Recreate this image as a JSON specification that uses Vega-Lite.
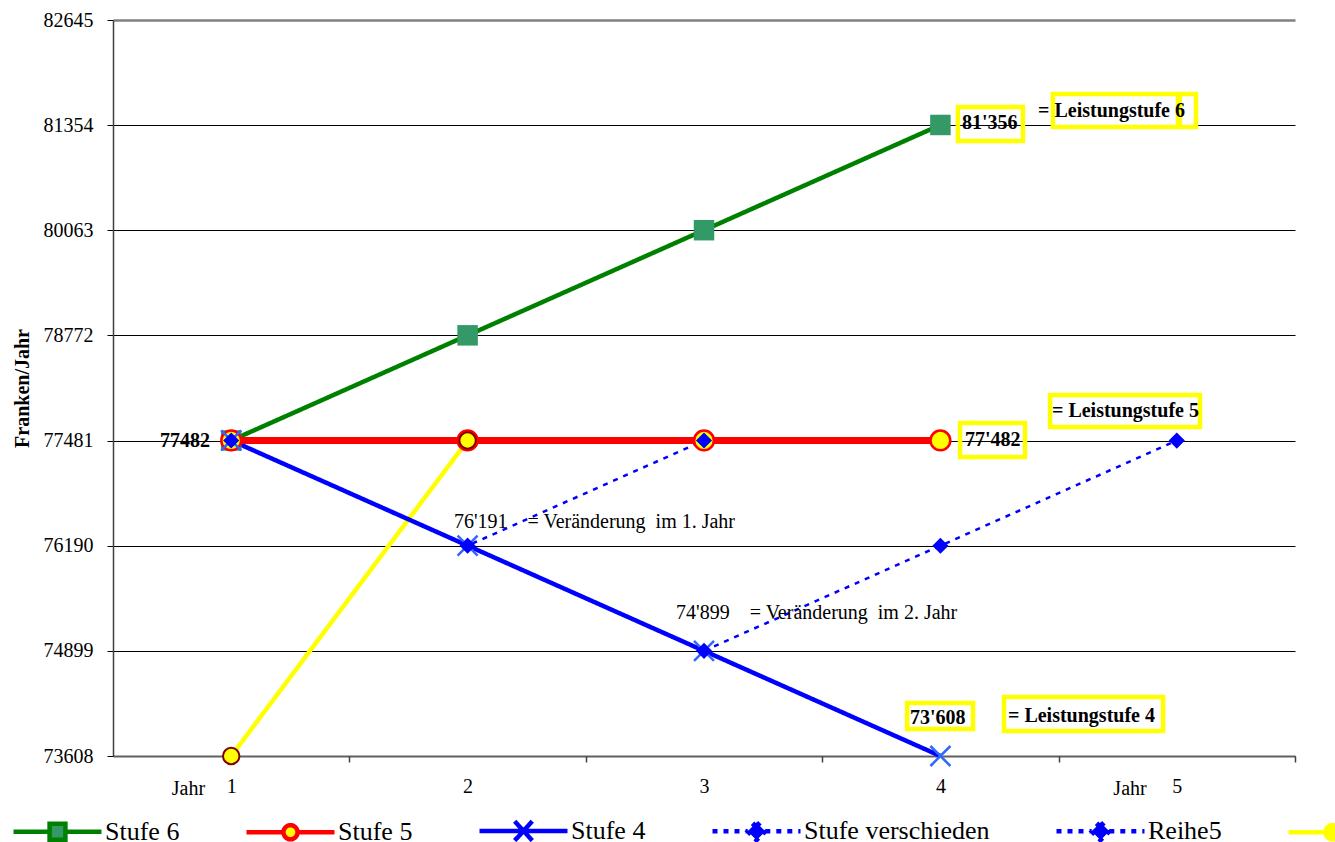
{
  "$schema": "https://vega.github.io/schema/vega-lite/v6.json",
  "width": 1182,
  "height": 736,
  "autosize": {"type": "none"},
  "padding": {"left": 113, "top": 20, "right": 40, "bottom": 86},
  "background": "white",
  "config": {
    "view": {"stroke": null},
    "font": "Liberation Serif",
    "axis": {"labelFont": "Liberation Serif", "titleFont": "Liberation Serif"},
    "legend": {"labelFont": "Liberation Serif", "labelFontSize": 26, "titleFont": "Liberation Serif"},
    "text": {"font": "Liberation Serif"}
  },
  "datasets": {
    "werte": [
      {"series": "Stufe 6", "jahr": 1, "wert": 77482},
      {"series": "Stufe 6", "jahr": 2, "wert": 78773},
      {"series": "Stufe 6", "jahr": 3, "wert": 80064},
      {"series": "Stufe 6", "jahr": 4, "wert": 81356},
      {"series": "Stufe 5", "jahr": 1, "wert": 77482},
      {"series": "Stufe 5", "jahr": 2, "wert": 77482},
      {"series": "Stufe 5", "jahr": 3, "wert": 77482},
      {"series": "Stufe 5", "jahr": 4, "wert": 77482},
      {"series": "Reihe6", "jahr": 1, "wert": 73608},
      {"series": "Reihe6", "jahr": 2, "wert": 77482},
      {"series": "Stufe 4", "jahr": 1, "wert": 77482},
      {"series": "Stufe 4", "jahr": 2, "wert": 76191},
      {"series": "Stufe 4", "jahr": 3, "wert": 74899},
      {"series": "Stufe 4", "jahr": 4, "wert": 73608},
      {"series": "Stufe verschieden", "jahr": 1, "wert": 77482},
      {"series": "Stufe verschieden", "jahr": 2, "wert": 76191},
      {"series": "Stufe verschieden", "jahr": 3, "wert": 77482},
      {"series": "Reihe5", "jahr": 3, "wert": 74899},
      {"series": "Reihe5", "jahr": 4, "wert": 76190},
      {"series": "Reihe5", "jahr": 5, "wert": 77481}
    ],
    "boxen": [
      {"x1": 4.074, "x2": 4.349, "y1": 81577, "y2": 81159},
      {"x1": 4.476, "x2": 5.005, "y1": 81736, "y2": 81331},
      {"x1": 5.013, "x2": 5.081, "y1": 81736, "y2": 81331},
      {"x1": 4.083, "x2": 4.358, "y1": 77697, "y2": 77280},
      {"x1": 4.464, "x2": 5.098, "y1": 78040, "y2": 77647},
      {"x1": 3.859, "x2": 4.138, "y1": 74258, "y2": 73939},
      {"x1": 4.269, "x2": 4.942, "y1": 74332, "y2": 73915}
    ],
    "fett": [
      {"x": 4.091, "y": 81380, "text": "81'356"},
      {"x": 4.413, "y": 81528, "text": "= Leistungstufe 6"},
      {"x": 4.104, "y": 77488, "text": "77'482"},
      {"x": 4.472, "y": 77844, "text": "= Leistungstufe 5"},
      {"x": 3.871, "y": 74070, "text": "73'608"},
      {"x": 4.286, "y": 74099, "text": "= Leistungstufe 4"}
    ],
    "fett_rechts": [
      {"x": 0.91, "y": 77481, "text": "77482"}
    ],
    "normal": [
      {"x": 1.942, "y": 76481, "text": "76'191\u00a0\u00a0\u00a0 = Veränderung\u00a0\u00a0im 1. Jahr"},
      {"x": 2.882, "y": 75364, "text": "74'899\u00a0\u00a0\u00a0 = Veränderung\u00a0\u00a0im 2. Jahr"}
    ]
  },
  "layer": [
    {
      "data": {"name": "werte"},
      "transform": [{"filter": {"field": "series", "oneOf": ["Stufe 6", "Stufe 4", "Reihe6"]}}],
      "mark": {"type": "line", "strokeWidth": 4.5},
      "encoding": {
        "x": {"field": "jahr", "type": "quantitative", "scale": {"domain": [0.5, 5.5], "nice": false, "zero": false},
          "axis": {"orient": "bottom", "values": [1, 2, 3, 4, 5], "format": "d", "ticks": false, "grid": false, "domain": true, "domainColor": "#606060", "domainWidth": 2, "labelFont": "Liberation Serif", "labelFontSize": 20, "labelColor": "black", "labelPadding": 20, "title": null, "labelFlush": false, "labelOverlap": false}},
        "y": {"field": "wert", "type": "quantitative", "scale": {"domain": [73608, 82645], "nice": false, "zero": false},
          "axis": {"values": [73608, 74899, 76190, 77481, 78772, 80063, 81354, 82645], "format": "d", "labelFont": "Liberation Serif", "labelFontSize": 20, "labelColor": "black", "labelPadding": 14, "tickSize": 6, "tickColor": "black", "domainColor": "#404040", "domainWidth": 1.5, "grid": true,
            "gridColor": {"condition": {"test": "datum.value >= 82645", "value": "#808080"}, "value": "black"},
            "gridWidth": {"condition": {"test": "datum.value >= 82645", "value": 2.5}, "value": 1},
            "gridOpacity": 1, "title": "Franken/Jahr", "titleFont": "Liberation Serif", "titleFontSize": 20, "titleFontWeight": "bold", "titleColor": "black", "titlePadding": 11, "labelFlush": false, "labelOverlap": false}},
        "color": {"field": "series", "type": "nominal",
          "scale": {"domain": ["Stufe 6", "Stufe 5", "Stufe 4", "Stufe verschieden", "Reihe5", "Reihe6"], "range": ["#008000", "#FF0000", "#0000FF", "#0000FF", "#0000FF", "#FFFF00"]},
          "legend": {"orient": "none", "legendX": -102, "legendY": 764, "direction": "horizontal", "columns": 6, "columnPadding": 57, "title": null, "padding": 0, "labelFont": "Liberation Serif", "labelFontSize": 26, "labelColor": "black", "labelLimit": 400, "labelOffset": 1, "symbolSize": 7744, "symbolStrokeWidth": 4.5, "symbolOpacity": 1}},
        "strokeDash": {"field": "series", "type": "nominal",
          "scale": {"domain": ["Stufe 6", "Stufe 5", "Stufe 4", "Stufe verschieden", "Reihe5", "Reihe6"], "range": [[1, 0], [1, 0], [1, 0], [5, 6], [5, 6], [1, 0]]},
          "legend": {"orient": "none", "legendX": -102, "legendY": 764, "direction": "horizontal", "columns": 6, "columnPadding": 57, "title": null, "padding": 0, "labelFont": "Liberation Serif", "labelFontSize": 26, "labelColor": "black", "labelLimit": 400, "labelOffset": 1, "symbolSize": 7744, "symbolStrokeWidth": 4.5, "symbolOpacity": 1}}
      }
    },
    {
      "data": {"name": "werte"},
      "transform": [{"filter": {"field": "series", "equal": "Stufe 5"}}],
      "mark": {"type": "line", "strokeWidth": 7},
      "encoding": {
        "x": {"field": "jahr", "type": "quantitative", "scale": {"domain": [0.5, 5.5], "nice": false, "zero": false}, "axis": null},
        "y": {"field": "wert", "type": "quantitative"},
        "color": {"field": "series", "type": "nominal",
          "scale": {"domain": ["Stufe 6", "Stufe 5", "Stufe 4", "Stufe verschieden", "Reihe5", "Reihe6"], "range": ["#008000", "#FF0000", "#0000FF", "#0000FF", "#0000FF", "#FFFF00"]}}
      }
    },
    {
      "data": {"name": "werte"},
      "transform": [{"filter": {"field": "series", "oneOf": ["Stufe verschieden", "Reihe5"]}}],
      "mark": {"type": "line", "strokeWidth": 2.5},
      "encoding": {
        "x": {"field": "jahr", "type": "quantitative", "scale": {"domain": [0.5, 5.5], "nice": false, "zero": false}, "axis": null},
        "y": {"field": "wert", "type": "quantitative"},
        "color": {"field": "series", "type": "nominal",
          "scale": {"domain": ["Stufe 6", "Stufe 5", "Stufe 4", "Stufe verschieden", "Reihe5", "Reihe6"], "range": ["#008000", "#FF0000", "#0000FF", "#0000FF", "#0000FF", "#FFFF00"]}},
        "strokeDash": {"field": "series", "type": "nominal",
          "scale": {"domain": ["Stufe 6", "Stufe 5", "Stufe 4", "Stufe verschieden", "Reihe5", "Reihe6"], "range": [[1, 0], [1, 0], [1, 0], [5, 6], [5, 6], [1, 0]]}}
      }
    },
    {
      "data": {"name": "werte"},
      "transform": [{"filter": "false"}],
      "mark": {"type": "point", "filled": true, "opacity": 1},
      "encoding": {
        "x": {"field": "jahr", "type": "quantitative", "scale": {"domain": [0.5, 5.5], "nice": false, "zero": false}, "axis": null},
        "y": {"field": "wert", "type": "quantitative"},
        "shape": {"field": "series", "type": "nominal",
          "scale": {"domain": ["Stufe 6", "Stufe 5", "Stufe 4", "Stufe verschieden", "Reihe5", "Reihe6"],
            "range": [
              "M-1,0H-0.18M0.18,0H1M-0.18,-0.18H0.18V0.18H-0.18Z",
              "M-1,0H-0.16M0.16,0H1M-0.16,0A0.16,0.16,0,1,1,0.16,0A0.16,0.16,0,1,1,-0.16,0Z",
              "M-1,0H1M-0.2,-0.22L0.2,0.22M-0.2,0.22L0.2,-0.22",
              "M-1,0H-0.2M0.2,0H1M0,-0.2L0.2,0L0,0.2L-0.2,0Z",
              "M-1,0H-0.2M0.2,0H1M0,-0.2L0.2,0L0,0.2L-0.2,0Z",
              "M-1,0H-0.16M0.16,0H1M-0.16,0A0.16,0.16,0,1,1,0.16,0A0.16,0.16,0,1,1,-0.16,0Z"]},
          "legend": {"orient": "none", "legendX": -102, "legendY": 764, "direction": "horizontal", "columns": 6, "columnPadding": 57, "title": null, "padding": 0, "labelFont": "Liberation Serif", "labelFontSize": 26, "labelColor": "black", "labelLimit": 400, "labelOffset": 1, "symbolSize": 7744, "symbolStrokeWidth": 4.5, "symbolOpacity": 1}},
        "fill": {"field": "series", "type": "nominal",
          "scale": {"domain": ["Stufe 6", "Stufe 5", "Stufe 4", "Stufe verschieden", "Reihe5", "Reihe6"], "range": ["#339966", "#FFFF00", "#0000FF", "#0000FF", "#0000FF", "#FFFF00"]},
          "legend": {"orient": "none", "legendX": -102, "legendY": 764, "direction": "horizontal", "columns": 6, "columnPadding": 57, "title": null, "padding": 0, "labelFont": "Liberation Serif", "labelFontSize": 26, "labelColor": "black", "labelLimit": 400, "labelOffset": 1, "symbolSize": 7744, "symbolStrokeWidth": 4.5, "symbolOpacity": 1}}
      }
    },
    {
      "data": {"name": "werte"},
      "transform": [{"filter": {"field": "series", "equal": "Stufe 6"}}],
      "mark": {"type": "point", "shape": "square", "filled": true, "size": 420, "color": "#339966", "opacity": 1},
      "encoding": {
        "x": {"field": "jahr", "type": "quantitative", "scale": {"domain": [0.5, 5.5], "nice": false, "zero": false},
          "axis": {"orient": "bottom", "values": [1.5, 2.5, 3.5, 4.5, 5.5], "labels": false, "ticks": true, "tickSize": 6, "tickColor": "#404040", "tickWidth": 1.5, "domain": false, "grid": false, "title": null}},
        "y": {"field": "wert", "type": "quantitative"}
      }
    },
    {
      "data": {"name": "werte"},
      "transform": [{"filter": {"field": "series", "equal": "Stufe 5"}}],
      "mark": {"type": "point", "shape": "circle", "filled": true, "size": 390, "fill": "#FFFF00", "stroke": "#FF0000", "strokeWidth": 2.5, "opacity": 1},
      "encoding": {
        "x": {"field": "jahr", "type": "quantitative", "axis": null},
        "y": {"field": "wert", "type": "quantitative"}
      }
    },
    {
      "data": {"name": "werte"},
      "transform": [{"filter": {"field": "series", "equal": "Reihe6"}}],
      "mark": {"type": "point", "shape": "circle", "filled": true, "size": 270, "fill": "#FFFF00", "stroke": "#800000", "strokeWidth": 2, "opacity": 1},
      "encoding": {
        "x": {"field": "jahr", "type": "quantitative", "axis": null},
        "y": {"field": "wert", "type": "quantitative"}
      }
    },
    {
      "data": {"name": "werte"},
      "transform": [{"filter": {"field": "series", "equal": "Stufe 4"}}],
      "mark": {"type": "point", "shape": "M-1,-1L1,1M-1,1L1,-1", "filled": false, "size": 400, "stroke": "#3366FF", "strokeWidth": 2.5, "opacity": 1},
      "encoding": {
        "x": {"field": "jahr", "type": "quantitative", "axis": null},
        "y": {"field": "wert", "type": "quantitative"}
      }
    },
    {
      "data": {"name": "werte"},
      "transform": [{"filter": {"field": "series", "oneOf": ["Stufe verschieden", "Reihe5"]}}],
      "mark": {"type": "point", "shape": "diamond", "filled": true, "size": 260, "color": "#0000FF", "opacity": 1},
      "encoding": {
        "x": {"field": "jahr", "type": "quantitative", "axis": null},
        "y": {"field": "wert", "type": "quantitative"}
      }
    },
    {
      "data": {"name": "boxen"},
      "mark": {"type": "rect", "filled": false, "stroke": "#FFFF00", "strokeWidth": 4.5},
      "encoding": {
        "x": {"field": "x1", "type": "quantitative", "scale": {"domain": [0.5, 5.5], "nice": false, "zero": false},
          "axis": {"orient": "bottom", "values": [0.817, 4.8], "labelExpr": "'Jahr'", "ticks": false, "domain": false, "grid": false, "labelFont": "Liberation Serif", "labelFontSize": 20, "labelColor": "black", "labelPadding": 22, "title": null, "labelFlush": false, "labelOverlap": false}},
        "x2": {"field": "x2"},
        "y": {"field": "y1", "type": "quantitative"},
        "y2": {"field": "y2"}
      }
    },
    {
      "data": {"name": "fett"},
      "mark": {"type": "text", "font": "Liberation Serif", "fontSize": 20, "fontWeight": "bold", "align": "left", "baseline": "middle", "color": "black"},
      "encoding": {
        "x": {"field": "x", "type": "quantitative", "axis": null},
        "y": {"field": "y", "type": "quantitative"},
        "text": {"field": "text"}
      }
    },
    {
      "data": {"name": "fett_rechts"},
      "mark": {"type": "text", "font": "Liberation Serif", "fontSize": 20, "fontWeight": "bold", "align": "right", "baseline": "middle", "color": "black"},
      "encoding": {
        "x": {"field": "x", "type": "quantitative", "axis": null},
        "y": {"field": "y", "type": "quantitative"},
        "text": {"field": "text"}
      }
    },
    {
      "data": {"name": "normal"},
      "mark": {"type": "text", "font": "Liberation Serif", "fontSize": 20, "align": "left", "baseline": "middle", "color": "black"},
      "encoding": {
        "x": {"field": "x", "type": "quantitative", "axis": null},
        "y": {"field": "y", "type": "quantitative"},
        "text": {"field": "text"}
      }
    }
  ],
  "resolve": {"axis": {"x": "independent"}}
}
